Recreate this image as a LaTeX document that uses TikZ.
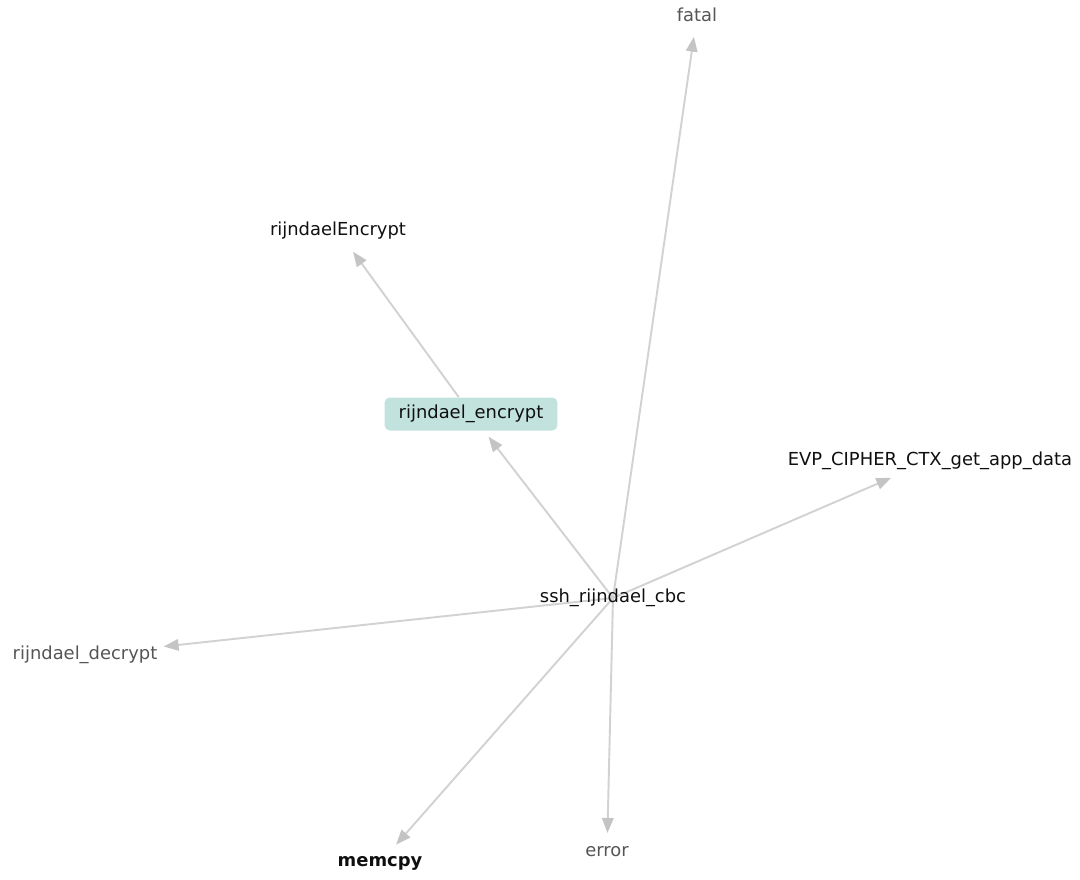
\documentclass[tikz,border=0pt]{standalone}
\usepackage{fontspec}
\setmainfont{DejaVu Sans}
\usetikzlibrary{arrows.meta,backgrounds}

\definecolor{edgegray}{RGB}{210,210,210}
\definecolor{tipgray}{RGB}{196,196,196}
\definecolor{boxteal}{RGB}{194,226,222}
\definecolor{darklbl}{RGB}{15,15,15}
\definecolor{greylbl}{RGB}{85,85,85}

\begin{document}
\begin{tikzpicture}[x=0.02cm,y=-0.02cm,
        font=\fontsize{10.2}{12}\selectfont,
        lbl/.style={inner sep=2pt,text=darklbl},
        faint/.style={inner sep=2pt,text=greylbl},
        focus/.style={fill=boxteal,rounded corners=3pt,text=darklbl,
            minimum width=3.46cm,minimum height=0.66cm,inner sep=2pt},
        edge/.style={draw=edgegray,line width=1.1pt,
            -{Triangle[length=8.5pt,width=6.5pt,color=tipgray]}}
    ]
        \useasboundingbox (0,0) rectangle (1080,880);

        % centre of the call graph
        \node[lbl] (hub) at (613,598) {ssh\_rijndael\_cbc};

        % callees
        \node[faint] (fatal)   at (697,15)  {fatal};
        \node[focus] (encrypt) at (471,414) {rijndael\_encrypt};
        \node[lbl]   (encbig)  at (338,231) {rijndaelEncrypt};
        \node[lbl]   (evp)     at (930,461) {EVP\_CIPHER\_CTX\_get\_app\_data};
        \node[faint] (decrypt) at (85,655)  {rijndael\_decrypt};
        \node[lbl,font=\fontsize{10.2}{12}\selectfont\bfseries]
                     (memcpy)  at (380,863) {memcpy};
        \node[faint] (error)   at (607,852) {error};

        % edges go under the labels
        \begin{scope}[on background layer]
            \foreach \t/\gap in {fatal/0.22cm,evp/0.2cm,decrypt/0.05cm,
                                memcpy/0.2cm,error/0.2cm,encrypt/0.15cm}
                \draw[edge,shorten >=\gap] (hub.center) -- (\t);
            \draw[edge,shorten >=0.2cm] (encrypt) -- (encbig);
        \end{scope}
\end{tikzpicture}
\end{document}
